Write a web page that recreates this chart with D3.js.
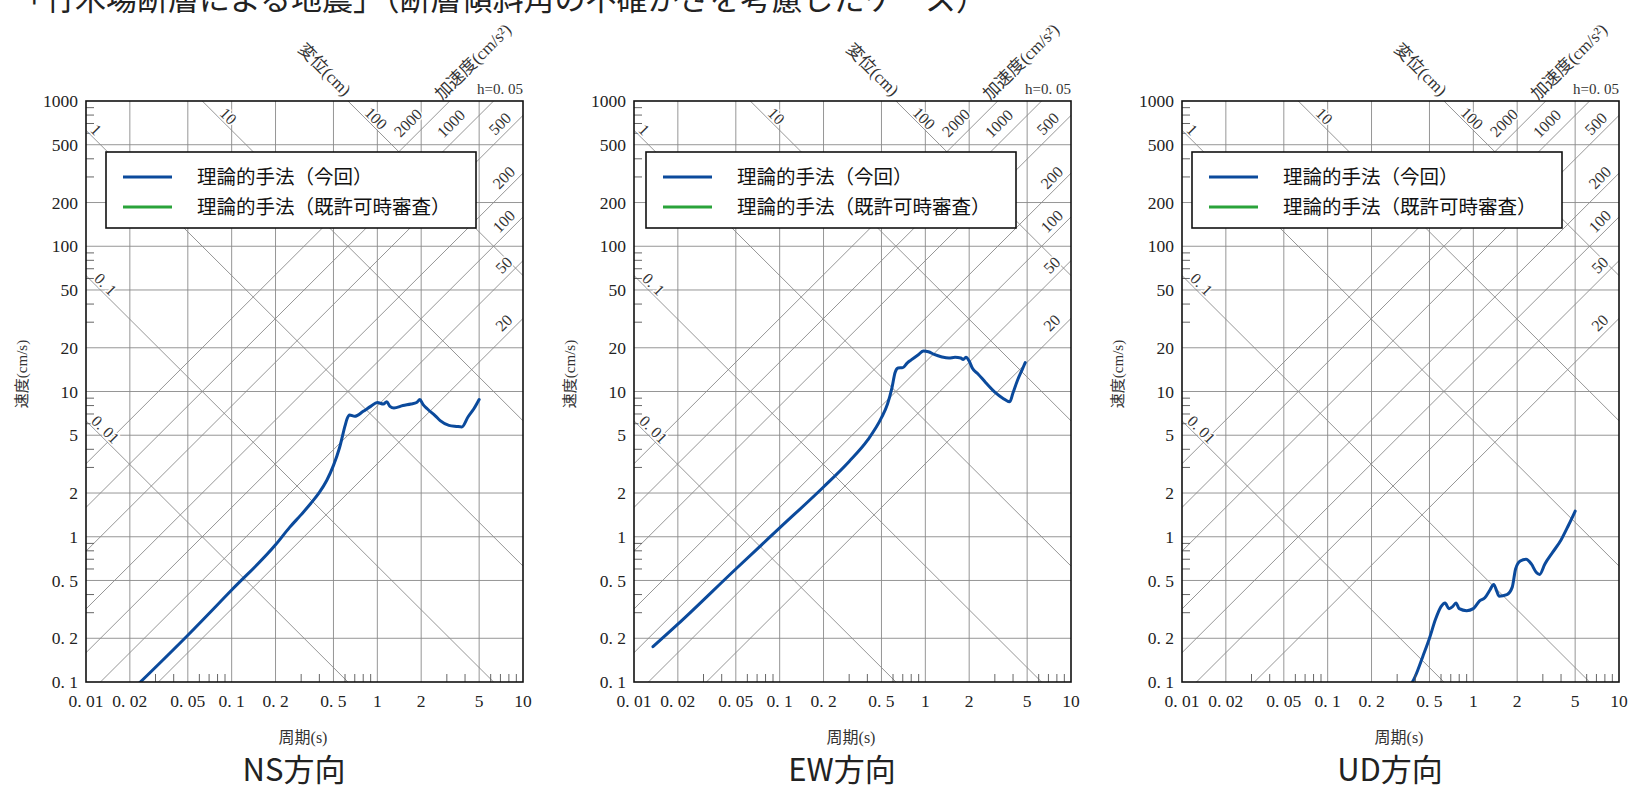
<!DOCTYPE html>
<html><head><meta charset="utf-8">
<script src="https://cdn.jsdelivr.net/npm/d3@7"></script>
<style>
body{margin:0;background:#fff;overflow:hidden;}
</style></head><body>
<svg id="c" width="1630" height="785"></svg>
<script>
// ---------- data ----------
const pageTitle = "「竹木場断層による地震」（断層傾斜角の不確かさを考慮したケース）";
const periodTicks = [0.01,0.02,0.05,0.1,0.2,0.5,1,2,5,10];
const periodTickLabels = ["0. 01","0. 02","0. 05","0. 1","0. 2","0. 5","1","2","5","10"];
const velocityTicks = [0.1,0.2,0.5,1,2,5,10,20,50,100,200,500,1000];
const velocityTickLabels = ["0. 1","0. 2","0. 5","1","2","5","10","20","50","100","200","500","1000"];
const minorMultipliers = [3,4,6,7,8,9];
const displacementValues = [0.01,0.1,1,10,100];
const displacementLabels = ["0. 01","0. 1","1","10","100"];
const accelerationValues = [20,50,100,200,500,1000,2000];
const accelerationLabels = ["20","50","100","200","500","1000","2000"];
const panelNames = ["NS方向","EW方向","UD方向"];
const legendLabels = ["理論的手法（今回）","理論的手法（既許可時審査）"];
const seriesColors = ["#0b4a9c","#2aa33a"];

const nsPeriod   = [0.02,0.05,0.1,0.2,0.25,0.3,0.35,0.4,0.45,0.5,0.55,0.6,0.62,0.645,0.7,0.8,0.9,1.0,1.1,1.16,1.22,1.3,1.5,1.7,1.86,1.96,2.05,2.2,2.5,2.7,3.1,3.5,3.8,4.2,4.6,5.0];
const nsVelocity = [0.085,0.21,0.43,0.88,1.16,1.42,1.7,2.02,2.45,3.1,4.1,5.8,6.5,6.9,6.75,7.3,7.9,8.4,8.2,8.5,7.9,7.7,8.0,8.2,8.4,8.8,8.2,7.6,6.8,6.3,5.85,5.75,5.7,6.7,7.6,8.8];
const ewPeriod   = [0.0135,0.02,0.05,0.1,0.2,0.3,0.4,0.5,0.55,0.59,0.62,0.65,0.7,0.75,0.8,0.9,0.97,1.05,1.15,1.3,1.45,1.6,1.75,1.82,1.9,2.0,2.1,2.3,2.6,3.0,3.4,3.8,4.0,4.3,4.6,4.85];
const ewVelocity = [0.175,0.25,0.6,1.15,2.2,3.3,4.6,6.6,8.2,10.6,13.5,14.5,14.6,15.7,16.5,18.0,19.0,18.8,18.0,17.3,17.0,17.2,17.0,16.6,17.2,16.2,14.5,13.2,11.5,9.9,9.0,8.5,9.8,12.0,14.0,15.8];
const udPeriod   = [0.36,0.4,0.45,0.5,0.55,0.6,0.64,0.68,0.72,0.76,0.8,0.9,1.0,1.1,1.2,1.3,1.38,1.45,1.5,1.7,1.85,1.95,2.1,2.3,2.5,2.7,2.85,3.1,3.5,4.0,4.5,5.0];
const udVelocity = [0.09,0.11,0.15,0.2,0.27,0.33,0.35,0.32,0.33,0.35,0.32,0.31,0.32,0.36,0.38,0.43,0.47,0.42,0.39,0.4,0.45,0.6,0.68,0.7,0.65,0.57,0.55,0.65,0.78,0.95,1.2,1.5];
const panelPeriods = [nsPeriod, ewPeriod, udPeriod];
const panelVelocities = [nsVelocity, ewVelocity, udVelocity];

// ---------- layout ----------
const panelLefts = [86, 634, 1182];
const legendOffsets = [20, 12, 10];
const W = 437, TOP = 101, BOTTOM = 682;
const serif = "'Liberation Serif','Noto Sans CJK JP',serif";
const jp = "'Noto Sans CJK JP','Noto Sans',sans-serif";
const gridCol = "#8a8a8a";

const svg = d3.select("#c");
svg.append("text").attr("x", 13).attr("y", 10).attr("font-family", jp)
  .attr("font-size", 31).attr("fill", "#222").text(pageTitle);

panelNames.forEach((name, pi) => {
  const L = panelLefts[pi];
  const x = d3.scaleLog().domain([0.01, 10]).range([L, L + W]);
  const y = d3.scaleLog().domain([0.1, 1000]).range([BOTTOM, TOP]);
  const g = svg.append("g");
  const clipId = "clip" + pi;
  g.append("clipPath").attr("id", clipId).append("rect")
    .attr("x", L).attr("y", TOP).attr("width", W).attr("height", BOTTOM - TOP);
  const inner = g.append("g").attr("clip-path", `url(#${clipId})`);

  // grid
  periodTicks.slice(1, -1).forEach(t => inner.append("line")
    .attr("x1", x(t)).attr("x2", x(t)).attr("y1", TOP).attr("y2", BOTTOM)
    .attr("stroke", gridCol).attr("stroke-width", 0.9));
  velocityTicks.slice(1, -1).forEach(v => inner.append("line")
    .attr("x1", L).attr("x2", L + W).attr("y1", y(v)).attr("y2", y(v))
    .attr("stroke", gridCol).attr("stroke-width", 0.9));

  // diagonal lines
  const diag = d3.line().x(d => x(d[0])).y(d => y(d[1]));
  displacementValues.forEach(D => inner.append("path")
    .attr("d", diag([[0.001, 2 * Math.PI * D / 0.001], [100, 2 * Math.PI * D / 100]]))
    .attr("stroke", gridCol).attr("stroke-width", 0.9).attr("fill", "none"));
  accelerationValues.forEach(A => inner.append("path")
    .attr("d", diag([[0.001, A * 0.001 / (2 * Math.PI)], [100, A * 100 / (2 * Math.PI)]]))
    .attr("stroke", gridCol).attr("stroke-width", 0.9).attr("fill", "none"));

  // minor ticks
  [0.01, 0.1, 1].forEach(dec => minorMultipliers.forEach(m => g.append("line")
    .attr("x1", x(dec * m)).attr("x2", x(dec * m)).attr("y1", BOTTOM).attr("y2", BOTTOM - 8)
    .attr("stroke", "#555").attr("stroke-width", 0.9)));
  [0.1, 1, 10, 100].forEach(dec => minorMultipliers.forEach(m => g.append("line")
    .attr("x1", L).attr("x2", L + 8).attr("y1", y(dec * m)).attr("y2", y(dec * m))
    .attr("stroke", "#555").attr("stroke-width", 0.9)));

  // diagonal labels
  const dLabelT = [0.0125, 0.0125, 0.0108, 0.087, 0.9];
  displacementValues.forEach((D, i) => {
    const t = dLabelT[i];
    const px = x(t) + 5.5, py = y(2 * Math.PI * D / t) - 5.5;
    g.append("text").attr("transform", `translate(${px},${py}) rotate(45)`)
      .attr("text-anchor", "middle").attr("dy", "0.35em")
      .attr("font-family", serif).attr("font-size", 16).attr("fill", "#333")
      .attr("stroke", "#fff").attr("stroke-width", 3).attr("paint-order", "stroke")
      .text(displacementLabels[i]);
  });
  const aLabelT = [8.3, 8.3, 8.3, 8.3, 7.8, 3.75, 1.9];
  const aLabelOff = [7.5, 7.5, 7.5, 7.5, 7.5, 10, 10];
  accelerationValues.forEach((A, i) => {
    const t = aLabelT[i];
    const o = aLabelOff[i];
    const px = x(t) - o, py = y(A * t / (2 * Math.PI)) - o;
    g.append("text").attr("transform", `translate(${px},${py}) rotate(-45)`)
      .attr("text-anchor", "middle").attr("dy", "0.35em")
      .attr("font-family", serif).attr("font-size", 16).attr("fill", "#333")
      .attr("stroke", "#fff").attr("stroke-width", 3).attr("paint-order", "stroke")
      .text(accelerationLabels[i]);
  });

  // frame
  g.append("rect").attr("x", L).attr("y", TOP).attr("width", W).attr("height", BOTTOM - TOP)
    .attr("fill", "none").attr("stroke", "#111").attr("stroke-width", 1.6);

  // curve
  const pts = panelPeriods[pi].map((t, i) => [t, panelVelocities[pi][i]]);
  inner.append("path").attr("d", d3.line().x(d => x(d[0])).y(d => y(d[1])).curve(d3.curveMonotoneX)(pts))
    .attr("fill", "none").attr("stroke", seriesColors[0]).attr("stroke-width", 3)
    .attr("stroke-linejoin", "round").attr("stroke-linecap", "round");

  // tick labels
  periodTicks.forEach((t, i) => g.append("text").attr("x", x(t)).attr("y", 707)
    .attr("text-anchor", "middle").attr("font-family", serif).attr("font-size", 17.5)
    .attr("fill", "#222").text(periodTickLabels[i]));
  velocityTicks.forEach((v, i) => g.append("text").attr("x", L - 8).attr("y", y(v))
    .attr("dy", "0.35em").attr("text-anchor", "end").attr("font-family", serif)
    .attr("font-size", 17.5).attr("fill", "#222").text(velocityTickLabels[i]));

  // axis titles
  g.append("text").attr("transform", `translate(${L - 64},374) rotate(-90)`)
    .attr("text-anchor", "middle").attr("dy", "0.35em").attr("font-size", 15)
    .attr("font-family", serif).attr("fill", "#333").text("速度(cm/s)");
  g.append("text").attr("x", L + 217).attr("y", 743)
    .attr("text-anchor", "middle").attr("font-size", 16).attr("font-family", serif)
    .attr("fill", "#333").text("周期(s)");

  g.append("text").attr("transform", `translate(${L + 258},97) rotate(45)`)
    .attr("text-anchor", "end").attr("font-size", 17).attr("font-family", serif)
    .attr("fill", "#333").text("変位(cm)");
  g.append("text").attr("transform", `translate(${L + 356},101) rotate(-45)`)
    .attr("text-anchor", "start").attr("font-size", 17).attr("font-family", serif)
    .attr("fill", "#333").text("加速度(cm/s²)");
  g.append("text").attr("x", L + W).attr("y", 94).attr("text-anchor", "end")
    .attr("font-family", serif).attr("font-size", 15).attr("fill", "#333").text("h=0. 05");

  // legend
  const lx = L + legendOffsets[pi], ly = 152;
  g.append("rect").attr("x", lx).attr("y", ly).attr("width", 370).attr("height", 76)
    .attr("fill", "#fff").attr("stroke", "#111").attr("stroke-width", 1.6);
  legendLabels.forEach((lab, i) => {
    const yy = ly + 25 + i * 30;
    g.append("line").attr("x1", lx + 17).attr("x2", lx + 66).attr("y1", yy).attr("y2", yy)
      .attr("stroke", seriesColors[i]).attr("stroke-width", 3);
    g.append("text").attr("x", lx + 91).attr("y", yy).attr("dy", "0.36em")
      .attr("font-family", jp).attr("font-size", 19.5).attr("fill", "#111").text(lab);
  });

  // panel title
  g.append("text").attr("x", L + 208).attr("y", 781).attr("text-anchor", "middle")
    .attr("font-family", jp).attr("font-size", 31).attr("fill", "#222").text(name);
});
</script>
</body></html>
